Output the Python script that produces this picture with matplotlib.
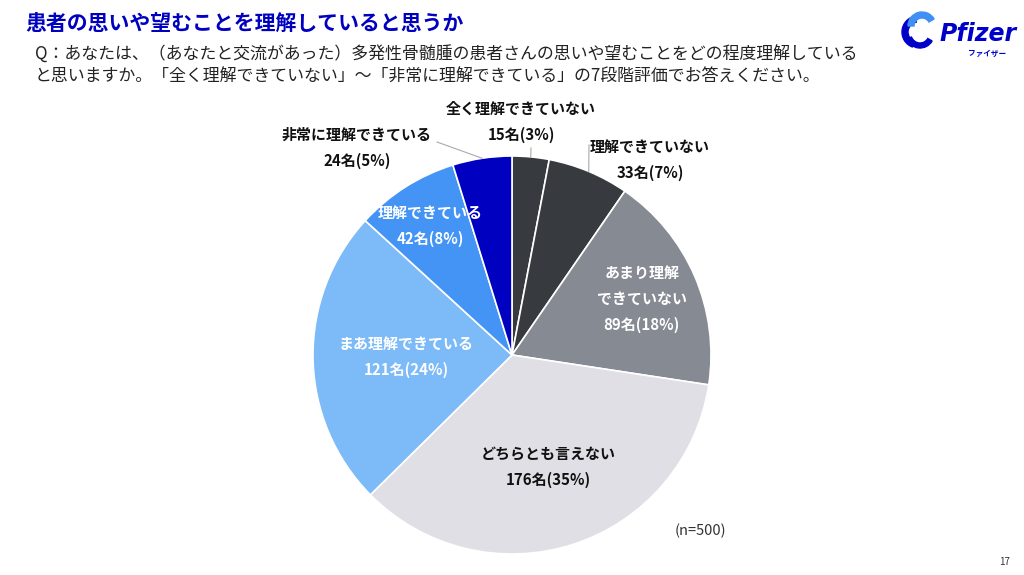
import numpy as np
import matplotlib.pyplot as plt
from matplotlib.patches import Wedge

plt.rcParams['font.family'] = ['Noto Sans CJK JP', 'DejaVu Sans']

labels = ['全く理解できていない', '理解できていない', 'あまり理解\nできていない', 'どちらとも言えない',
          'まあ理解できている', '理解できている', '非常に理解できている']
counts = [15, 33, 89, 176, 121, 42, 24]
pcts = [3, 7, 18, 35, 24, 8, 5]
colors = ['#373b3f', '#373b3f', '#868a93', '#e0dfe5', '#7dbaf8', '#4494f5', '#0000c0']
text_colors = ['#111111', '#111111', 'white', '#111111', 'white', 'white', '#111111']

W, H = 1024, 575
fig = plt.figure(figsize=(W / 100, H / 100), dpi=100)
ax = fig.add_axes([0, 0, 1, 1])

cx, cy, R = 512, H - 355, 199
wedges, _ = ax.pie(counts, colors=colors, startangle=90, counterclock=False,
                   center=(cx, cy), radius=R, frame=True,
                   wedgeprops=dict(edgecolor='white', linewidth=1.2))
ax.set_xlim(0, W)
ax.set_ylim(0, H)
ax.set_aspect('equal')
ax.set_axis_off()

# inside labels: radius fraction per slice
inside = {2: 0.71, 3: 0.59, 4: 0.53, 5: 0.77}
for i, w in enumerate(wedges):
    mid = np.deg2rad((w.theta1 + w.theta2) / 2)
    txt = f'{labels[i]}\n{counts[i]}名({pcts[i]}%)'
    if i in inside:
        r = inside[i] * R
        ax.text(cx + r * np.cos(mid), cy + r * np.sin(mid), txt, ha='center', va='center',
                fontsize=10.8, fontweight='bold', color=text_colors[i], linespacing=1.75)

# outside labels with leader lines
outside = {0: (521, H - 122, 531, H - 148), 1: (650, H - 160, 589, H - 145),
           6: (357, H - 148, 437, H - 142)}
for i, (tx, ty, lx, ly) in outside.items():
    w = wedges[i]
    mid = np.deg2rad((w.theta1 + w.theta2) / 2)
    ex, ey = cx + R * np.cos(mid), cy + R * np.sin(mid)
    ax.plot([lx, ex], [ly, ey], color='#aaaaaa', lw=0.8)
    ax.text(tx, ty, f'{labels[i]}\n{counts[i]}名({pcts[i]}%)', ha='center', va='center',
            fontsize=10.8, fontweight='bold', color='#111111', linespacing=1.75)

ax.text(700, H - 531, '(n=500)', ha='center', va='center', fontsize=10.5, color='#333333')

# title and question
fig.text(25 / W, 1 - 23 / H, '患者の思いや望むことを理解していると思うか', fontsize=15,
         fontweight='bold', color='#0000c0', va='center', ha='left')
fig.text(35 / W, 1 - 55 / H, 'Q：あなたは、（あなたと交流があった）多発性骨髄腫の患者さんの思いや望むことをどの程度理解している',
         fontsize=12.2, color='#222222', va='center', ha='left')
fig.text(35 / W, 1 - 77 / H, 'と思いますか。「全く理解できていない」～「非常に理解できている」の7段階評価でお答えください。',
         fontsize=12.2, color='#222222', va='center', ha='left')

# logo
lx, ly = 918, H - 32
ax.add_patch(Wedge((lx, ly), 16, 100, 250, width=6, color='#0000c9'))
ax.add_patch(Wedge((lx + 4, ly + 6), 14, 30, 180, width=6, color='#3f8ff5'))
ax.add_patch(Wedge((lx + 2, ly - 2), 14, 200, 330, width=5, color='#0000c9'))
fig.text(940 / W, 1 - 34 / H, 'Pfizer', fontsize=17, fontweight='bold', style='italic',
         color='#0000c9', va='center', ha='left', family='DejaVu Sans')
fig.text(968 / W, 1 - 53 / H, 'ファイザー', fontsize=5.5, fontweight='bold', color='#0000c9',
         va='center', ha='left')

fig.text(1005 / W, 1 - 562 / H, '17', fontsize=7, color='#333333', ha='center', va='center')

fig.savefig('out.png', dpi=100, facecolor='white')
